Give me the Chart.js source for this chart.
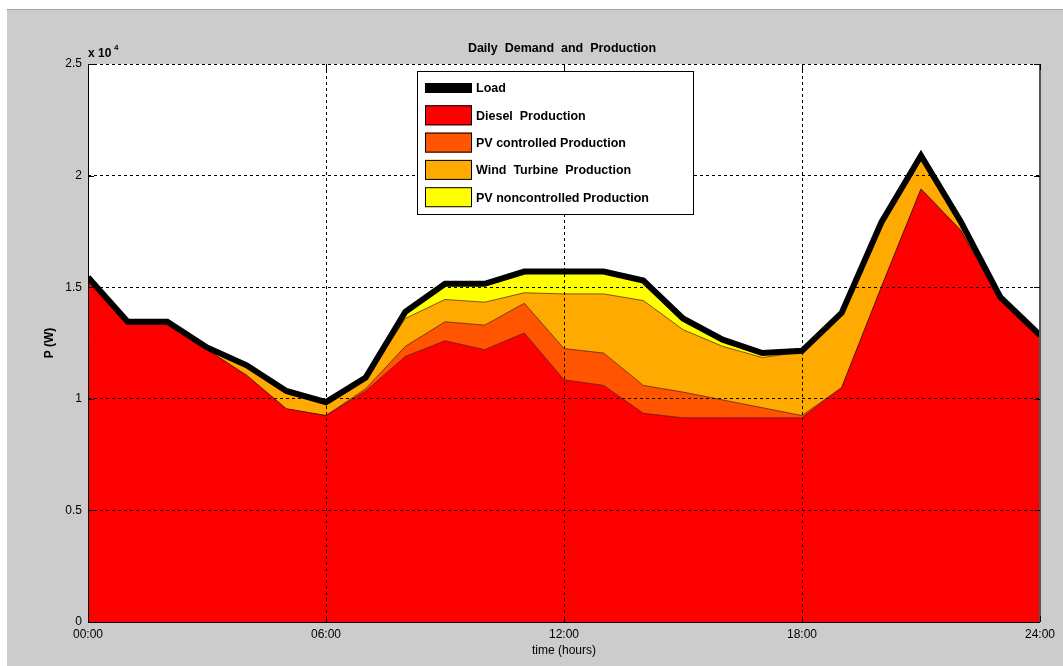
<!DOCTYPE html>
<html>
<head>
<meta charset="utf-8">
<script src="https://cdn.jsdelivr.net/npm/chart.js@4"></script>
<style>
  html, body { margin: 0; padding: 0; background: #cccccc; }
  #wrap { width: 1063px; height: 666px; position: relative; }
</style>
</head>
<body>
<div id="wrap"><canvas id="chart"></canvas></div>
<script>
// hourly samples (W)
const hours = [0, 1, 2, 3, 4, 5, 6, 7, 8, 9, 10, 11, 12, 13, 14, 15, 16, 17, 18, 19, 20, 21, 22, 23, 24];
const load = [15450, 13450, 13450, 12300, 11500, 10350, 9850, 10950, 13900, 15150, 15150, 15700, 15700, 15700, 15300, 13600, 12650, 12050, 12150, 13850, 17900, 20900, 17950, 14550, 12850];
const diesel = [15450, 13450, 13450, 12200, 11050, 9550, 9250, 10350, 11900, 12600, 12200, 12950, 10850, 10600, 9350, 9150, 9150, 9150, 9150, 10500, 15000, 19400, 17550, 14400, 12700];
const pvControlled = [0, 0, 0, 0, 0, 0, 0, 100, 450, 850, 1100, 1330, 1400, 1450, 1250, 1150, 800, 450, 100, 0, 0, 0, 0, 0, 0];
const wind = [0, 0, 0, 100, 450, 800, 600, 450, 1250, 1000, 1030, 470, 2450, 2650, 3800, 2800, 2400, 2250, 2850, 3350, 2900, 1500, 400, 150, 150];
const pvNonControlled = [0, 0, 0, 0, 0, 0, 0, 50, 300, 700, 820, 950, 1000, 1000, 900, 500, 300, 200, 50, 0, 0, 0, 0, 0, 0];

const seriesNames = ['Load', 'Diesel  Production', 'PV controlled Production', 'Wind  Turbine  Production', 'PV noncontrolled Production'];
const seriesColors = ['#000000', '#ff0000', '#ff5500', '#ffaa00', '#ffff00'];

const toXY = arr => arr.map((v, i) => ({ x: hours[i], y: v }));
const pad2 = n => (n < 10 ? '0' : '') + n;

function area(idx, values, fill) {
    return {
        label: seriesNames[idx],
        data: toXY(values),
        backgroundColor: seriesColors[idx],
        borderColor: 'rgba(40,0,0,0.6)',
        borderWidth: 1,
        fill: fill,
        stack: 'prod',
        pointRadius: 0,
        tension: 0
    };
}

// background, frame, exponent, labels and legend drawn like matlab does
const matlabLook = {
    id: 'matlabLook',
    beforeDraw(chart) {
        const ctx = chart.ctx, a = chart.chartArea;
        ctx.save();
        ctx.fillStyle = '#cccccc';
        ctx.fillRect(0, 0, chart.width, chart.height);
        ctx.fillStyle = '#ffffff';
        ctx.fillRect(0, 0, chart.width, 9);
        ctx.fillRect(0, 0, 7, chart.height);
        ctx.fillStyle = '#a8a898';
        ctx.fillRect(7, 9, chart.width, 1);
        ctx.fillStyle = '#ffffff';
        ctx.fillRect(a.left, a.top, a.right - a.left, a.bottom - a.top);
        ctx.restore();
    },
    afterDraw(chart) {
        const ctx = chart.ctx, a = chart.chartArea;
        const xs = chart.scales.x, ys = chart.scales.y;
        ctx.save();
        // frame
        ctx.strokeStyle = '#000';
        ctx.lineWidth = 1;
        ctx.beginPath();
        ctx.moveTo(a.left + 0.5, a.top);
        ctx.lineTo(a.left + 0.5, a.bottom + 0.5);
        ctx.lineTo(a.right, a.bottom + 0.5);
        ctx.stroke();
        ctx.strokeStyle = '#555';
        ctx.lineWidth = 2;
        ctx.beginPath();
        ctx.moveTo(a.right, a.top);
        ctx.lineTo(a.right, a.bottom);
        ctx.stroke();
        // inner tick marks
        ctx.strokeStyle = '#000';
        ctx.lineWidth = 1;
        ctx.beginPath();
        ys.ticks.forEach(t => {
            const y = Math.round(ys.getPixelForValue(t.value)) + 0.5;
            ctx.moveTo(a.left, y); ctx.lineTo(a.left + 6, y);
            ctx.moveTo(a.right, y); ctx.lineTo(a.right - 6, y);
        });
        xs.ticks.forEach(t => {
            const x = Math.round(xs.getPixelForValue(t.value)) + 0.5;
            ctx.moveTo(x, a.bottom); ctx.lineTo(x, a.bottom - 6);
            ctx.moveTo(x, a.top); ctx.lineTo(x, a.top + 6);
        });
        ctx.stroke();

        // title and axis labels
        ctx.fillStyle = '#000';
        ctx.font = 'bold 12.5px "Liberation Sans", Arial, sans-serif';
        ctx.textAlign = 'center';
        ctx.textBaseline = 'middle';
        ctx.fillText('Daily  Demand  and  Production', (a.left + a.right) / 2 - 2, 49);
        ctx.font = '12px "Liberation Sans", Arial, sans-serif';
        ctx.fillText('time (hours)', (a.left + a.right) / 2, 651);
        ctx.save();
        ctx.translate(50, (a.top + a.bottom) / 2);
        ctx.rotate(-Math.PI / 2);
        ctx.font = 'bold 12px "Liberation Sans", Arial, sans-serif';
        ctx.fillText('P (W)', 0, 0);
        ctx.restore();

        // exponent
        ctx.textAlign = 'left';
        ctx.font = 'bold 12px "Liberation Sans", Arial, sans-serif';
        ctx.fillText('x 10', a.left, 54);
        ctx.font = 'bold 8px "Liberation Sans", Arial, sans-serif';
        ctx.fillText('4', a.left + 26, 48);

        // legend
        const lx = 417, ly = 71, lw = 276, lh = 143;
        ctx.fillStyle = '#ffffff';
        ctx.fillRect(lx, ly, lw, lh);
        ctx.strokeStyle = '#000';
        ctx.lineWidth = 1;
        ctx.strokeRect(lx + 0.5, ly + 0.5, lw, lh);
        ctx.font = 'bold 12.5px "Liberation Sans", Arial, sans-serif';
        chart.data.datasets.forEach((ds, i) => {
            const cy = 88 + i * 27.3;
            if (i === 0) {
                ctx.fillStyle = '#000';
                ctx.fillRect(425, cy - 5, 47, 10);
            } else {
                ctx.fillStyle = ds.backgroundColor;
                ctx.fillRect(425, cy - 10, 47, 20);
                ctx.strokeRect(425.5, cy - 9.5, 46, 19);
            }
            ctx.fillStyle = '#000';
            ctx.fillText(ds.label, 476, cy + 1);
        });
        ctx.restore();
    }
};

const tickFont = { family: '"Liberation Sans", Arial, sans-serif', size: 12 };

new Chart(document.getElementById('chart'), {
    type: 'line',
    data: {
        datasets: [
            {
                label: seriesNames[0],
                data: toXY(load),
                borderColor: seriesColors[0],
                backgroundColor: seriesColors[0],
                borderWidth: 6,
                fill: false,
                stack: 'load',
                pointRadius: 0,
                tension: 0
            },
            area(1, diesel, 'origin'),
            area(2, pvControlled, '-1'),
            area(3, wind, '-1'),
            area(4, pvNonControlled, '-1')
        ]
    },
    options: {
        responsive: true,
        maintainAspectRatio: false,
        animation: false,
        layout: { padding: { top: 64, right: 23, left: 0, bottom: 0 } },
        plugins: { legend: { display: false }, tooltip: { enabled: false } },
        scales: {
            x: {
                type: 'linear',
                min: 0, max: 24,
                grid: { color: '#000', lineWidth: 1, drawTicks: false, z: 1 },
                border: { display: false, dash: [3, 3] },
                ticks: {
                    stepSize: 6, padding: 5, color: '#000', font: tickFont,
                    maxRotation: 0,
                    callback: v => pad2(v) + ':00'
                },
                afterFit: s => { s.height = 44; }
            },
            y: {
                stacked: true,
                min: 0, max: 25000,
                grid: { color: '#000', lineWidth: 1, drawTicks: false, z: 1 },
                border: { display: false, dash: [3, 3] },
                ticks: {
                    stepSize: 5000, padding: 6, color: '#000', font: tickFont,
                    callback: v => String(v / 10000)
                },
                afterFit: s => { s.width = 88; }
            }
        }
    },
    plugins: [matlabLook]
});
</script>
</body>
</html>
